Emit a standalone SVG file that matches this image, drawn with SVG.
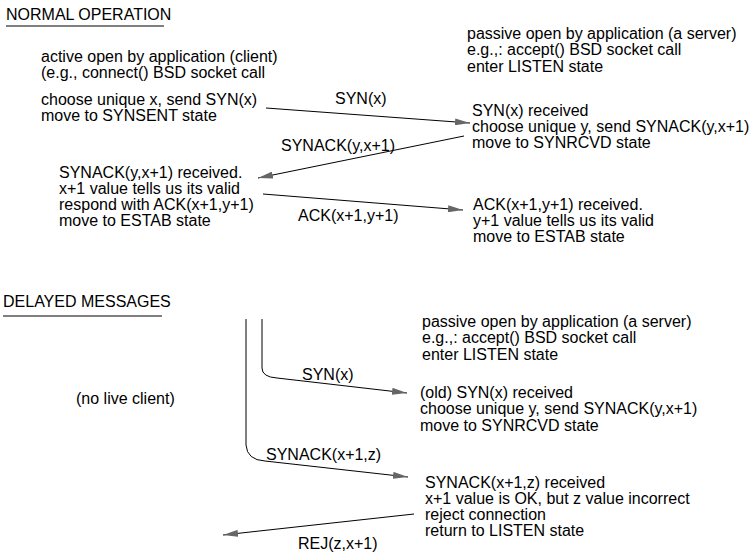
<svg xmlns="http://www.w3.org/2000/svg" width="751" height="554" viewBox="0 0 751 554">
<style>
text{font-family:"Liberation Sans",Arial,sans-serif;font-size:16px;fill:#000}
.ln{stroke:#000;stroke-width:1;fill:none}
</style>
<defs>
<marker id="ah" markerWidth="15" markerHeight="7" refX="15" refY="3.5" orient="auto" markerUnits="userSpaceOnUse">
<path d="M0,0 L15,3.5 L0,7 Z" fill="#666"/>
</marker>
</defs>
<rect width="751" height="554" fill="#fff"/>
<g id="title-normal">
<text x="6" y="20">NORMAL OPERATION</text>
<line class="ln" x1="6" y1="26" x2="164" y2="26"/>
</g>
<g id="client-open">
<text x="41" y="62">active open by application (client)</text>
<text x="41" y="78">(e.g., connect() BSD socket call</text>
</g>
<g id="client-syn">
<text x="41" y="105">choose unique x, send SYN(x)</text>
<text x="41" y="121">move to SYNSENT state</text>
</g>
<g id="server-open">
<text x="467" y="39">passive open by application (a server)</text>
<text x="467" y="55">e.g.,: accept() BSD socket call</text>
<text x="467" y="72">enter LISTEN state</text>
</g>
<g id="server-synrcvd">
<text x="472" y="116">SYN(x) received</text>
<text x="472" y="132">choose unique y, send SYNACK(y,x+1)</text>
<text x="472" y="148">move to SYNRCVD state</text>
</g>
<g id="client-estab">
<text x="59" y="178">SYNACK(y,x+1) received.</text>
<text x="59" y="194">x+1 value tells us its valid</text>
<text x="59" y="210">respond with ACK(x+1,y+1)</text>
<text x="59" y="226">move to ESTAB state</text>
</g>
<g id="server-estab">
<text x="473" y="210">ACK(x+1,y+1) received.</text>
<text x="473" y="226">y+1 value tells us its valid</text>
<text x="473" y="242">move to ESTAB state</text>
</g>
<g id="title-delayed">
<text x="3" y="307">DELAYED MESSAGES</text>
<line class="ln" x1="3" y1="316" x2="162" y2="316"/>
</g>
<g id="no-client">
<text x="76" y="404">(no live client)</text>
</g>
<g id="server-open2">
<text x="422" y="327">passive open by application (a server)</text>
<text x="422" y="343">e.g.,: accept() BSD socket call</text>
<text x="422" y="360">enter LISTEN state</text>
</g>
<g id="server-old-syn">
<text x="420" y="398">(old) SYN(x) received</text>
<text x="420" y="414">choose unique y, send SYNACK(y,x+1)</text>
<text x="420" y="431">move to SYNRCVD state</text>
</g>
<g id="server-reject">
<text x="425" y="488">SYNACK(x+1,z) received</text>
<text x="425" y="504">x+1 value is OK, but z value incorrect</text>
<text x="425" y="520">reject connection</text>
<text x="425" y="536">return to LISTEN state</text>
</g>
<g id="connectors">
<line class="ln" x1="266" y1="108" x2="470" y2="123" marker-end="url(#ah)"/>
<text x="335" y="104">SYN(x)</text>
<line class="ln" x1="464" y1="136" x2="258" y2="178" marker-end="url(#ah)"/>
<text x="281" y="151">SYNACK(y,x+1)</text>
<line class="ln" x1="263" y1="194" x2="463" y2="210" marker-end="url(#ah)"/>
<text x="298" y="221">ACK(x+1,y+1)</text>
<path class="ln" d="M262,319 L262,368 Q262,377 277,378 L407,393" marker-end="url(#ah)"/>
<text x="302" y="380">SYN(x)</text>
<path class="ln" d="M246,319 L246,445 Q247,460 265,461 L408,477" marker-end="url(#ah)"/>
<text x="266" y="460">SYNACK(x+1,z)</text>
<line class="ln" x1="414" y1="514" x2="223" y2="535" marker-end="url(#ah)"/>
<text x="298" y="549">REJ(z,x+1)</text>
</g>
</svg>
